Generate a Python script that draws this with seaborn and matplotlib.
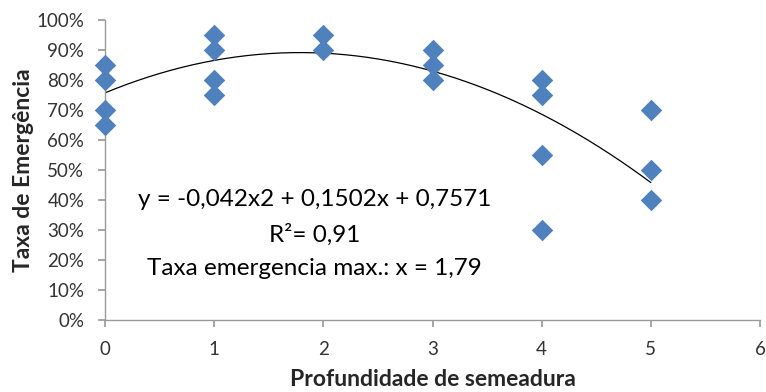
import matplotlib
matplotlib.use("Agg")
import matplotlib.pyplot as plt
import seaborn as sns
import numpy as np
import pandas as pd
from matplotlib.ticker import PercentFormatter

# Data
depth = [0, 0, 0, 0, 1, 1, 1, 1, 2, 2, 3, 3, 3, 4, 4, 4, 4, 5, 5, 5]
rate = [0.85, 0.80, 0.70, 0.65, 0.95, 0.90, 0.80, 0.75, 0.95, 0.90,
        0.90, 0.85, 0.80, 0.80, 0.75, 0.55, 0.30, 0.70, 0.50, 0.40]
# Trendline coefficients (as shown in the chart)
trend_coef = [-0.042, 0.1502, 0.7571]
trend_range = [0, 5]
x_ticks = [0, 1, 2, 3, 4, 5, 6]
y_ticks = [0, 0.1, 0.2, 0.3, 0.4, 0.5, 0.6, 0.7, 0.8, 0.9, 1.0]
eq_lines = ["y = -0,042x2 + 0,1502x + 0,7571", "R²= 0,91", "Taxa emergencia max.: x = 1,79"]

df = pd.DataFrame({"x": depth, "y": rate})
tx = np.linspace(trend_range[0], trend_range[1], 200)
trend = pd.DataFrame({"x": tx, "y": np.polyval(trend_coef, tx)})

sns.set_theme(style="white")
plt.rcParams["font.family"] = ["Lato", "DejaVu Sans"]

fig = plt.figure(figsize=(7.66, 3.92), dpi=100)
ax = fig.add_axes([105/766, 72/392, 655/766, 300/392])

sns.lineplot(data=trend, x="x", y="y", color="black", linewidth=0.9, ax=ax, zorder=2)
sns.scatterplot(data=df, x="x", y="y", marker="D", s=120, color="#4F81BD",
                edgecolor="#4F81BD", linewidth=0, ax=ax, zorder=3, clip_on=False)

ax.set_xlim(0, 6)
ax.set_ylim(0, 1.0)
ax.set_xticks(x_ticks)
ax.set_yticks(y_ticks)
ax.yaxis.set_major_formatter(PercentFormatter(1.0, decimals=0))
ax.tick_params(axis="both", labelsize=13.5, colors="#333333", length=5, direction="out",
               bottom=True, left=True, color="#9a9a9a")
ax.tick_params(axis="x", pad=10)
ax.tick_params(axis="y", pad=10)
for s in ["top", "right"]:
    ax.spines[s].set_visible(False)
for s in ["left", "bottom"]:
    ax.spines[s].set_color("#9a9a9a")
    ax.spines[s].set_linewidth(1)

ax.set_xlabel("Profundidade de semeadura", fontsize=16.5, fontweight="bold")
ax.set_ylabel("Taxa de Emergência", fontsize=16.5, fontweight="bold")
ax.yaxis.set_label_coords(-(105 - 34) / 655, 0.5)
ax.xaxis.set_label_coords(0.5, -(392 - 72 - 300 + 0) / 300 - 0.0)
ax.xaxis.label.set_va("center")
ax.xaxis.set_label_coords(0.5, -(380 - 320) / 300)

ys = [0.40, 0.283, 0.173]
for t, yy in zip(eq_lines, ys):
    ax.text(1.92, yy, t, ha="center", va="center", fontsize=17.5, color="black")

fig.savefig("out.png", dpi=100)
